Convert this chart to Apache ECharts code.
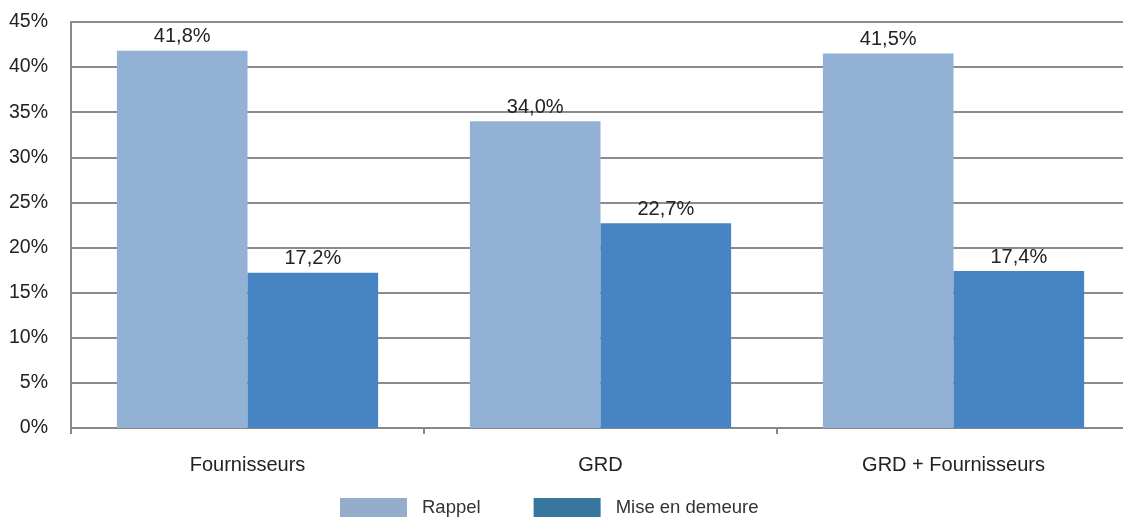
<!DOCTYPE html>
<html>
<head>
<meta charset="utf-8">
<script src="https://cdn.jsdelivr.net/npm/echarts@6/dist/echarts.min.js"></script>
<style>
  html, body { margin: 0; padding: 0; background: #fff; overflow: hidden; }
  #chart { width: 1130px; height: 519px; }
</style>
</head>
<body>
<div id="chart"></div>
<script>
const categories = ['Fournisseurs', 'GRD', 'GRD + Fournisseurs'];
const rappel = [41.8, 34.0, 41.5];
const miseEnDemeure = [17.2, 22.7, 17.4];

const chart = echarts.init(document.getElementById('chart'));

const labelFmt = p => p.value.toFixed(1).replace('.', ',') + '%';
const font = 'Liberation Sans, Arial, sans-serif';

chart.setOption({
    animation: false,
    backgroundColor: '#fff',
    textStyle: { fontFamily: font },
    grid: { left: 71, right: 0, top: 22, bottom: 91 },
    legend: {
        left: 340,
        top: 498,
        padding: 0,
        itemWidth: 67,
        itemHeight: 19,
        itemGap: 53,
        icon: 'rect',
        textStyle: { fontSize: 18.5, color: '#333', fontFamily: font, padding: [0, 0, 0, 10] },
        data: [
            { name: 'Rappel', itemStyle: { color: '#93adca' } },
            { name: 'Mise en demeure', itemStyle: { color: '#36769f' } }
        ]
    },
    xAxis: {
        type: 'category',
        data: categories,
        axisLine: { lineStyle: { color: '#888', width: 2 } },
        axisTick: { show: true, length: 6, lineStyle: { color: '#888', width: 2 } },
        axisLabel: { fontSize: 20, color: '#222', margin: 27, fontFamily: font }
    },
    yAxis: {
        type: 'value',
        min: 0,
        max: 45,
        interval: 5,
        axisLine: { show: true, lineStyle: { color: '#888', width: 2 } },
        axisTick: { show: false },
        splitLine: { lineStyle: { color: '#8c8c8c', width: 2 } },
        axisLabel: { fontSize: 19.5, color: '#222', margin: 23, formatter: '{value}%', fontFamily: font }
    },
    series: [
        {
            name: 'Rappel',
            type: 'bar',
            data: rappel,
            barWidth: '37%',
            barGap: '0%',
            itemStyle: { color: '#92b1d5' },
            label: { show: true, position: 'top', distance: 4, fontSize: 20, color: '#222', formatter: labelFmt, fontFamily: font }
        },
        {
            name: 'Mise en demeure',
            type: 'bar',
            data: miseEnDemeure,
            barWidth: '37%',
            itemStyle: { color: '#4684c3' },
            label: { show: true, position: 'top', distance: 4, fontSize: 20, color: '#222', formatter: labelFmt, fontFamily: font }
        }
    ]
});
</script>
</body>
</html>
